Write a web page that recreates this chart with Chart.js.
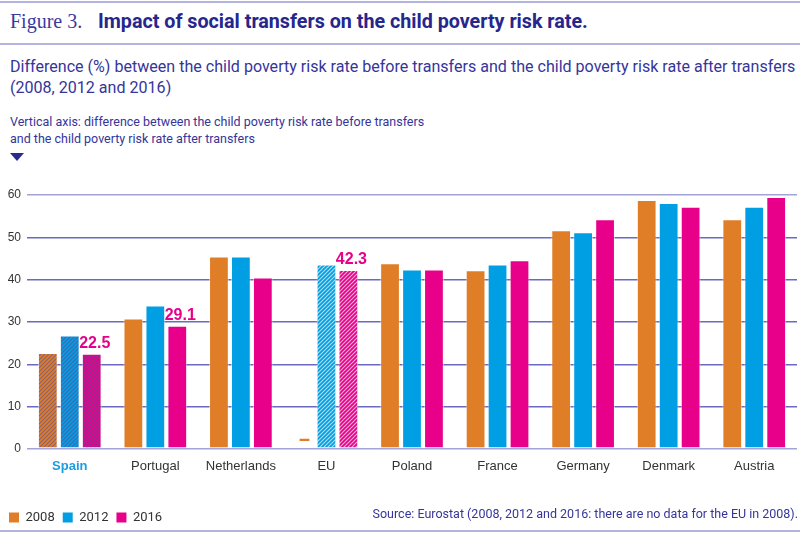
<!DOCTYPE html>
<html lang="en">
<head>
    <meta charset="UTF-8">
    <title>Impact of social transfers on the child poverty risk rate</title>
    <script src="https://cdn.jsdelivr.net/npm/chart.js"></script>
    <style>
        body {
            margin: 0;
            width: 800px;
            height: 536px;
            overflow: hidden;
            position: relative;
            background: #fff;
            font-family: "Roboto", "Liberation Sans", sans-serif;
            color: #35359a;
        }
        .rule {
            position: absolute;
            left: 0;
            width: 800px;
            height: 1.5px;
            background: #b3b3e0;
        }
        #fig {
            position: absolute;
            left: 10px;
            top: 8px;
            line-height: 26px;
            white-space: nowrap;
        }
        #fig .num {
            font-family: "Liberation Serif", serif;
            font-size: 20px;
            color: #3a3a9e;
            margin-right: 16px;
        }
        #fig .txt {
            font-size: 20px;
            font-weight: bold;
            color: #26268c;
            display: inline-block;
            transform: scaleX(0.985);
            transform-origin: left center;
        }
        #subtitle {
            position: absolute;
            left: 10px;
            top: 56px;
            font-size: 17px;
            line-height: 21px;
            white-space: nowrap;
            transform: scaleX(0.945);
            transform-origin: left top;
        }
        #axisnote {
            position: absolute;
            left: 10px;
            top: 113px;
            font-size: 13px;
            line-height: 17px;
            white-space: nowrap;
            transform: scaleX(0.96);
            transform-origin: left top;
        }
        #arrow {
            position: absolute;
            left: 10px;
            top: 153px;
            width: 0;
            height: 0;
            border-left: 7px solid transparent;
            border-right: 7px solid transparent;
            border-top: 8px solid #2b2b8c;
        }
        #chartBox {
            position: absolute;
            left: 0;
            top: 175px;
            width: 800px;
            height: 359px;
        }
        #source {
            position: absolute;
            right: 2px;
            top: 506px;
            font-size: 12.5px;
            white-space: nowrap;
        }
    </style>
</head>
<body>
    <div class="rule" style="top:1px"></div>
    <div id="fig"><span class="num">Figure 3.</span><span class="txt">Impact of social transfers on the child poverty risk rate.</span></div>
    <div class="rule" style="top:43px"></div>
    <div id="subtitle">Difference (%) between the child poverty risk rate before transfers and the child poverty risk rate after transfers<br>(2008, 2012 and 2016)</div>
    <div id="axisnote">Vertical axis: difference between the child poverty risk rate before transfers<br>and the child poverty risk rate after transfers</div>
    <div id="arrow"></div>
    <div id="chartBox"><canvas id="myChart"></canvas></div>
    <div id="source">Source: Eurostat (2008, 2012 and 2016: there are no data for the EU in 2008).</div>
    <div class="rule" style="top:530px"></div>

    <script>
        const categories = ['Spain', 'Portugal', 'Netherlands', 'EU', 'Poland', 'France', 'Germany', 'Denmark', 'Austria'];
        const years = ['2008', '2012', '2016'];
        const values2008 = [22.7, 30.8, 45.5, null, 43.9, 42.2, 51.7, 58.8, 54.3];
        const values2012 = [26.8, 33.9, 45.5, 43.6, 42.4, 43.6, 51.2, 58.1, 57.2];
        const values2016 = [22.5, 29.1, 40.5, 42.3, 42.4, 44.6, 54.3, 57.2, 59.5];
        const noDataMark = [1.9, 2.5]; // little dash drawn for EU 2008
        const labelled2016 = ['Spain', 'Portugal', 'EU'];

        const colors = ['#e07e27', '#009fe3', '#e8008a'];
        const spainIdx = categories.indexOf('Spain');
        const euIdx = categories.indexOf('EU');

        // diagonal stripes for Spain (dark) and the EU (light)
        function hatch(base, stripe) {
            const c = document.createElement('canvas');
            c.width = 4;
            c.height = 4;
            const g = c.getContext('2d');
            g.fillStyle = base;
            g.fillRect(0, 0, 4, 4);
            g.strokeStyle = stripe;
            g.lineWidth = 1.2;
            g.beginPath();
            g.moveTo(-1, 5); g.lineTo(5, -1);
            g.moveTo(-1, 1); g.lineTo(1, -1);
            g.moveTo(3, 5); g.lineTo(5, 3);
            g.stroke();
            return g.createPattern(c, 'repeat');
        }
        const spainFill = colors.map(c => hatch(c, 'rgba(90, 75, 150, 0.6)'));
        const euFill = colors.map(c => hatch(c, 'rgba(255, 255, 255, 0.65)'));

        const isDash = (k, i) => k === 0 && i === euIdx;

        function fillFor(k) {
            return (ctx) => {
                if (isDash(k, ctx.dataIndex)) return colors[k];
                if (ctx.dataIndex === spainIdx) return spainFill[k];
                if (ctx.dataIndex === euIdx) return euFill[k];
                return colors[k];
            };
        }

        const series = [
            values2008.map((v, i) => (i === euIdx && v === null) ? noDataMark : v),
            values2012,
            values2016
        ];

        const datasets = years.map((y, k) => ({
            label: y,
            data: series[k],
            backgroundColor: fillFor(k),
            borderColor: (ctx) => isDash(k, ctx.dataIndex) ? '#ffffff' : 'rgba(255,255,255,0.5)',
            borderWidth: (ctx) => isDash(k, ctx.dataIndex) ? { left: 5, right: 5, top: 0, bottom: 0 } : 1,
            borderSkipped: false,
            barPercentage: 0.9,
            categoryPercentage: 0.77
        }));

        const valueLabels = {
            id: 'valueLabels',
            afterDatasetsDraw(chart) {
                const meta = chart.getDatasetMeta(2);
                const ctx = chart.ctx;
                ctx.save();
                ctx.font = 'bold 16px "Liberation Sans", Arial, sans-serif';
                ctx.fillStyle = colors[2];
                ctx.textAlign = 'center';
                ctx.textBaseline = 'bottom';
                labelled2016.forEach(name => {
                    const i = categories.indexOf(name);
                    const bar = meta.data[i];
                    ctx.fillText(values2016[i].toFixed(1), bar.x + 3, bar.y - 2);
                });
                ctx.restore();
            }
        };

        const chart = new Chart(document.getElementById('myChart'), {
            type: 'bar',
            data: { labels: categories, datasets: datasets },
            options: {
                responsive: true,
                maintainAspectRatio: false,
                animation: false,
                layout: { padding: { top: 20, left: 1, right: 3 } },
                plugins: {
                    tooltip: { enabled: false },
                    legend: {
                        position: 'bottom',
                        align: 'start',
                        labels: {
                            boxWidth: 10,
                            boxHeight: 10,
                            padding: 8,
                            color: '#333333',
                            font: { family: 'Roboto, sans-serif', size: 13 },
                            generateLabels: () => years.map((y, k) => ({
                                text: y,
                                fillStyle: colors[k],
                                strokeStyle: colors[k],
                                lineWidth: 0,
                                fontColor: '#333333',
                                datasetIndex: k,
                                hidden: false
                            }))
                        }
                    }
                },
                scales: {
                    x: {
                        grid: { display: false },
                        border: { display: false },
                        ticks: {
                            padding: 2,
                            color: (ctx) => ctx.index === spainIdx ? '#1a9ee2' : '#333333',
                            font: (ctx) => ({
                                family: '"Liberation Sans", Arial, sans-serif',
                                size: 13,
                                weight: ctx.index === spainIdx ? 'bold' : 'normal'
                            })
                        },
                        afterFit(axis) { axis.height = 54; }
                    },
                    y: {
                        min: 0,
                        max: 60,
                        ticks: {
                            stepSize: 10,
                            padding: 6,
                            color: '#333333',
                            font: { family: '"Liberation Sans", Arial, sans-serif', size: 12 }
                        },
                        grid: {
                            drawTicks: false,
                            lineWidth: 1.5,
                            color: (ctx) => (ctx.tick.value === 0 || ctx.tick.value === 60) ? '#a3a3d6' : '#6a6ac2'
                        },
                        border: { display: false },
                        afterFit(axis) { axis.width = 26; }
                    }
                }
            },
            plugins: [valueLabels]
        });
    </script>
</body>
</html>
